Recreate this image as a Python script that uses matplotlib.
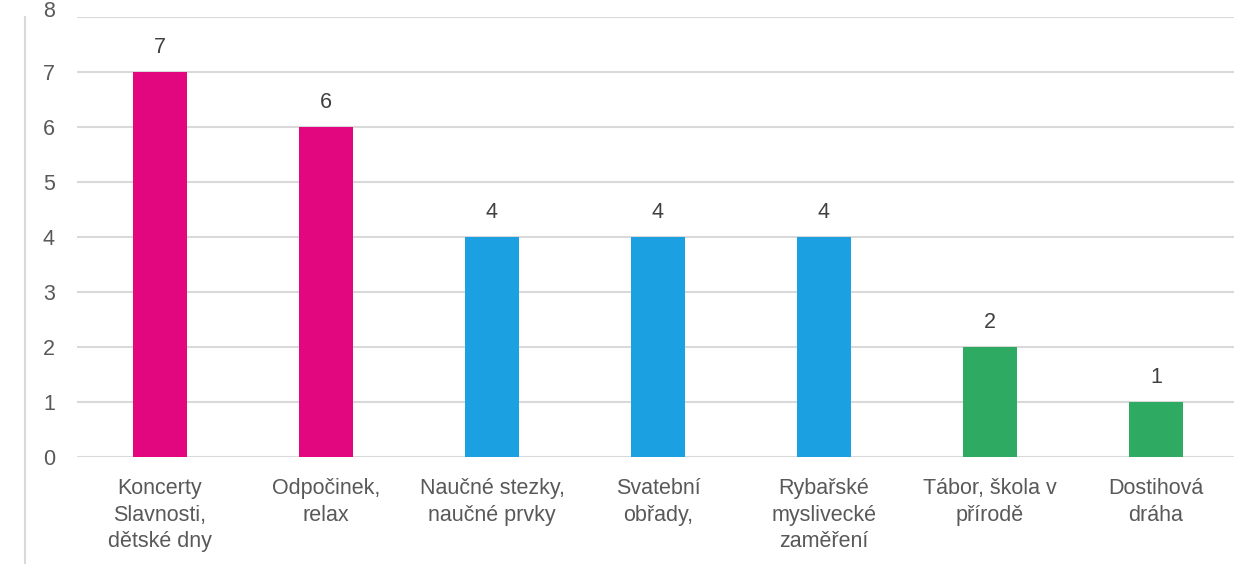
import matplotlib
matplotlib.use("Agg")
import matplotlib.pyplot as plt
from matplotlib.lines import Line2D
from matplotlib.transforms import ScaledTranslation

categories = ["Koncerty\nSlavnosti,\ndětské dny", "Odpočinek,\nrelax", "Naučné stezky,\nnaučné prvky",
              "Svatební\nobřady,", "Rybařské\nmyslivecké\nzaměření", "Tábor, škola v\npřírodě",
              "Dostihová\ndráha"]
values = [7, 6, 4, 4, 4, 2, 1]
colors = ["#E2077E", "#E2077E", "#1BA1E2", "#1BA1E2", "#1BA1E2", "#2EAA63", "#2EAA63"]
yticks = list(range(0, 9))

W, H = 1234, 564
fig = plt.figure(figsize=(W / 100, H / 100), dpi=100)
plt.rcParams['font.family'] = ['Liberation Sans', 'DejaVu Sans']

# axes in pixel-based placement
x0, x1 = 77, 1239
y0, y1 = 457, 17
ax = fig.add_axes([x0 / W, (H - y0) / H, (x1 - x0) / W, (y0 - y1) / H])
xs = list(range(len(categories)))
ax.bar(xs, values, width=0.32, color=colors, zorder=3)
ax.set_xlim(-0.5, len(categories) - 0.5)
ax.set_ylim(0, 8)
ax.set_yticks(yticks)
ax.set_yticklabels([str(t) for t in yticks])
ax.set_xticks(xs)
ax.set_xticklabels(categories, linespacing=1.36)
ax.grid(axis='y', color='#D9D9D9', linewidth=1.5, zorder=0)
for s in ax.spines.values():
    s.set_visible(False)
ax.tick_params(axis='both', length=0, labelsize=15.5, colors='#595959')
ax.tick_params(axis='x', pad=15)
ax.tick_params(axis='y', pad=16)
# the top label is partly cut off in the reference
top_lbl = ax.get_yticklabels()[-1]
top_lbl.set_transform(top_lbl.get_transform() + ScaledTranslation(0, 0.08, fig.dpi_scale_trans))
for x, v in zip(xs, values):
    ax.annotate(str(v), (x, v), xytext=(0, 10), textcoords='offset points',
                ha='center', va='bottom', fontsize=15.5, color='#404040')

fig.add_artist(Line2D([25 / W, 25 / W], [0, (H - 17) / H], color='#D9D9D9', linewidth=1.5))
fig.savefig("out.png", dpi=100, facecolor='white')
